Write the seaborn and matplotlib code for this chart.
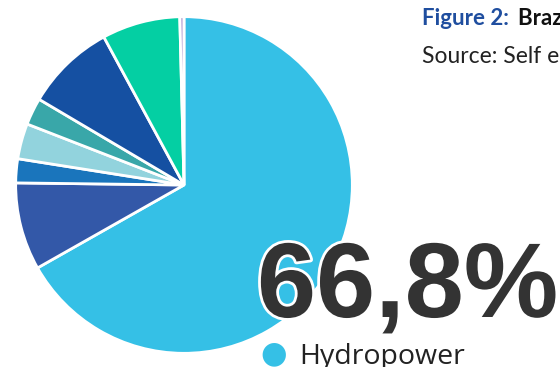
import matplotlib
matplotlib.use("Agg")
import matplotlib.pyplot as plt
import matplotlib.patheffects as pe
import seaborn as sns

# Brazilian electricity matrix: share of generation by source (%)
sources = ["Hydropower", "Natural gas", "Oil derivatives", "Coal", "Nuclear",
           "Biomass", "Wind", "Solar"]
shares = [66.8, 8.4, 2.3, 3.4, 2.6, 8.6, 7.5, 0.4]
colors = ["#35C0E6", "#3358A8", "#1A75BC", "#92D3DD", "#39A7A9",
          "#1550A2", "#04CFA3", "#B9A5D6"]
highlight_label = "Hydropower"
highlight_value = "66,8%"
title_prefix = "Figure 2:"
title_text = "Brazilian electricity matrix"
source_text = "Source: Self elaboration"

sns.set_theme(style="white")
palette = sns.color_palette(colors)

W, H = 560, 367
fig = plt.figure(figsize=(W / 100, H / 100), dpi=100)
fig.patch.set_facecolor("white")


def fx(px):
    return px / W


def fy(py):
    return 1 - py / H


# square axes holding the pie
cx, cy, r = 184, 185, 170
ax = fig.add_axes([fx(cx - r), fy(cy + r), (2 * r) / W, (2 * r) / H])
ax.pie(shares, colors=palette, startangle=90, counterclock=False, radius=1,
       wedgeprops=dict(edgecolor="white", linewidth=2))
ax.set_xlim(-1.01, 1.01)
ax.set_ylim(-1.01, 1.01)
ax.set_aspect("equal")
ax.axis("off")

# title and source
fig.text(fx(422), fy(25), title_prefix, fontsize=16, fontweight="bold",
         color="#1F4E9F", family="Lato", va="baseline")
fig.text(fx(518), fy(25), title_text, fontsize=16, fontweight="bold",
         color="#111111", family="Lato", va="baseline")
fig.text(fx(422), fy(63), source_text, fontsize=16.5, color="#222222",
         family="Lato", va="baseline")

# highlighted share
fig.text(fx(257), fy(317), highlight_value, fontsize=76.5, fontweight="bold",
         color="#333333", family="Liberation Sans", va="baseline",
         path_effects=[pe.withStroke(linewidth=4, foreground="white")])

# legend entry
fig.text(fx(274), fy(354), "\u25CF", fontsize=22, color=colors[0],
         family="DejaVu Sans", ha="center", va="center")
fig.text(fx(299), fy(364), highlight_label, fontsize=20.5, color="#222222",
         family="Open Sans", va="baseline")

fig.savefig("out.png", dpi=100, facecolor="white")
